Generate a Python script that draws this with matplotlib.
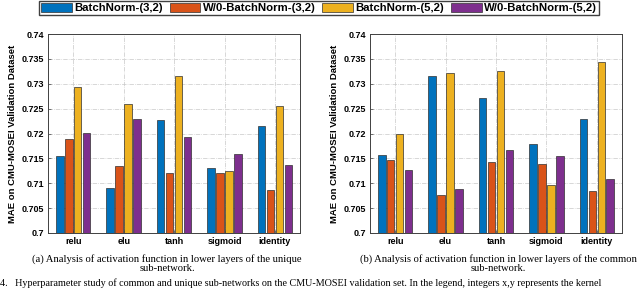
import numpy as np
import matplotlib
matplotlib.use('Agg')
import matplotlib.pyplot as plt
from matplotlib.patches import Patch

# datos
categorias = ['relu', 'elu', 'tanh', 'sigmoid', 'identity']
series = ['BatchNorm-(3,2)', 'W/0-BatchNorm-(3,2)', 'BatchNorm-(5,2)', 'W/0-BatchNorm-(5,2)']
colores = ['#0072BD', '#D95319', '#EDB120', '#7E2F8E']

# (a) sub-red unica
unica_bn32 = [0.7154, 0.7091, 0.7228, 0.7131, 0.7215]
unica_sin_bn32 = [0.7188, 0.7135, 0.7121, 0.7121, 0.7087]
unica_bn52 = [0.7294, 0.7259, 0.7315, 0.7124, 0.7255]
unica_sin_bn52 = [0.7202, 0.7230, 0.7192, 0.7159, 0.7137]

# (b) sub-red comun
comun_bn32 = [0.7156, 0.7315, 0.7272, 0.7178, 0.7230]
comun_sin_bn32 = [0.7147, 0.7076, 0.7142, 0.7138, 0.7085]
comun_bn52 = [0.7199, 0.7322, 0.7326, 0.7097, 0.7343]
comun_sin_bn52 = [0.7126, 0.7089, 0.7167, 0.7155, 0.7109]

yticks = [0.7, 0.705, 0.71, 0.715, 0.72, 0.725, 0.73, 0.735, 0.74]
ytick_labels = ['0.7', '0.705', '0.71', '0.715', '0.72', '0.725', '0.73', '0.735', '0.74']

ylabel = 'MAE on CMU-MOSEI Validation Dataset'
caption_a = '(a) Analysis of activation function in lower layers of the unique\nsub-network.'
caption_b = '(b) Analysis of activation function in lower layers of the common\nsub-network.'
pie = ('4.   Hyperparameter study of common and unique sub-networks on the CMU-MOSEI '
       'validation set. In the legend, integers x,y represents the kernel')

fig = plt.figure(figsize=(6.4, 2.9), dpi=100)
ax_a = fig.add_axes([0.075, 0.1966, 0.394, 0.686])
ax_b = fig.add_axes([0.578, 0.1966, 0.394, 0.686])

x = np.arange(1, len(categorias) + 1)
paso = 0.177
ancho = 0.15


def dibujar(ax, datos):
    for i, valores in enumerate(datos):
        ax.bar(x + (i - 1.5) * paso, np.array(valores) - 0.7, width=ancho, bottom=0.7,
               color=colores[i], edgecolor='#303030', linewidth=0.5, zorder=3)
    ax.set_xlim(0.5, 5.5)
    ax.set_ylim(0.7, 0.74)
    ax.set_xticks(x)
    ax.set_xticklabels(categorias, fontsize=6.5, fontweight='bold', family='Liberation Sans')
    ax.set_yticks(yticks)
    ax.set_yticklabels(ytick_labels, fontsize=6.5, fontweight='bold', family='Liberation Sans')
    ax.tick_params(direction='in', length=2, width=0.5, color='#404040', pad=3)
    ax.grid(True, color='#c8c8c8', linestyle='-.', linewidth=0.5, zorder=0)
    for s in ax.spines.values():
        s.set_color('#404040')
        s.set_linewidth(0.7)
    ax.set_ylabel(ylabel, fontsize=6.8, fontweight='bold', family='Liberation Sans', labelpad=3)


dibujar(ax_a, [unica_bn32, unica_sin_bn32, unica_bn52, unica_sin_bn52])
dibujar(ax_b, [comun_bn32, comun_sin_bn32, comun_bn52, comun_sin_bn52])

handles = [Patch(facecolor=c, edgecolor='#303030', linewidth=0.5) for c in colores]
fig.legend(handles, series, loc='upper center', bbox_to_anchor=(0.4985, 1.0), ncol=4,
           prop={'family': 'Liberation Sans', 'weight': 'bold', 'size': 8.2},
           handlelength=2.7, handleheight=0.8, handletextpad=0.2, columnspacing=0.6,
           fancybox=False, edgecolor='#404040', borderpad=0.15, borderaxespad=0.1,
           framealpha=1)

fig.text(0.261, 0.093, caption_a, ha='center', va='center', fontsize=7.7,
         family='Liberation Serif', linespacing=1.0)
fig.text(0.779, 0.093, caption_b, ha='center', va='center', fontsize=7.6,
         family='Liberation Serif', linespacing=1.0)
fig.text(0.0, 0.022, pie, ha='left', va='center', fontsize=7.3, family='Liberation Serif')

fig.savefig('out.png', dpi=100)
